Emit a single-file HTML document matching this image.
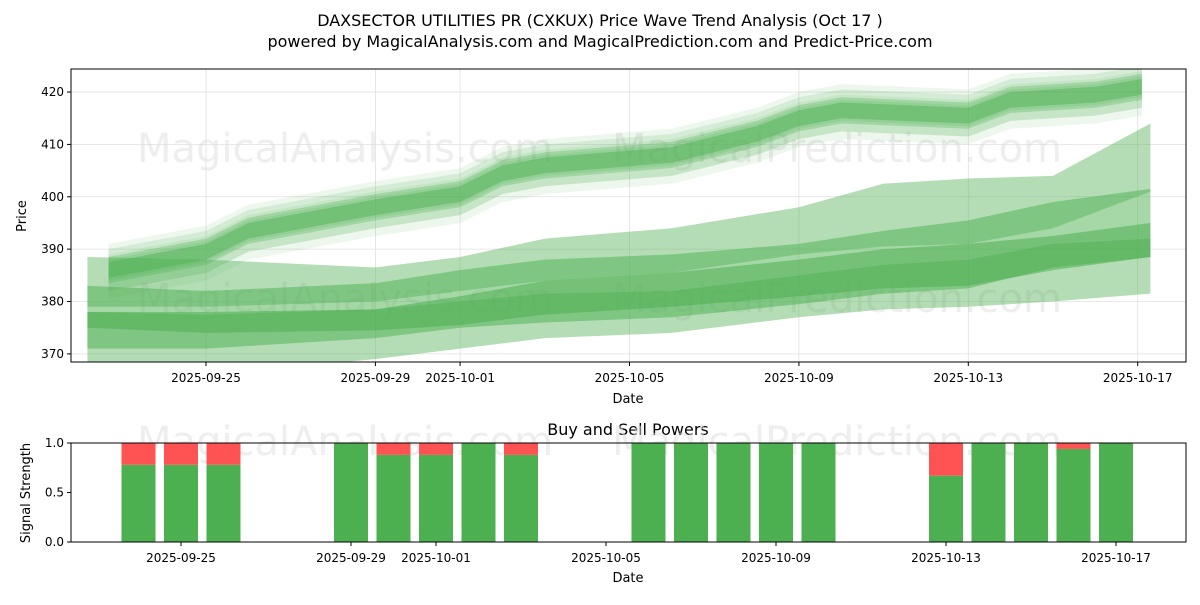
<!DOCTYPE html>
<html><head><meta charset="utf-8"><style>
body{margin:0;background:#fff;font-family:"Liberation Sans","DejaVu Sans",sans-serif;}
svg text{font-family:"DejaVu Sans","Liberation Sans",sans-serif;}
</style></head><body>
<svg id="c" width="1200" height="600" viewBox="0 0 1200 600" xmlns="http://www.w3.org/2000/svg">
<defs>
<clipPath id="clipTop"><rect x="71" y="69" width="1115" height="293"/></clipPath>
<clipPath id="clipBot"><rect x="71" y="443" width="1115" height="99"/></clipPath>
</defs>
<text x="600" y="26" text-anchor="middle" font-size="16" fill="#000">DAXSECTOR UTILITIES PR (CXKUX) Price Wave Trend Analysis (Oct 17 )</text>
<text x="600" y="47" text-anchor="middle" font-size="16" fill="#000">powered by MagicalAnalysis.com and MagicalPrediction.com and Predict-Price.com</text>
<g id="topPanel"></g>
<g id="topMarks" clip-path="url(#clipTop)"></g>
<g id="botPanel"></g>
</svg>
<script>
// ---- data ----
const xTickLabels = ["2025-09-25","2025-09-29","2025-10-01","2025-10-05","2025-10-09","2025-10-13","2025-10-17"];
const xTickDays = [0,4,6,10,14,18,22];
const yTicks = [370,380,390,400,410,420];
// upper trend cluster (days from 2025-09-25)
const upDays = [-2.3,0,1,4,6,7,8,11,13,14,15,18,19,21,22.1];
const upCenter = [386,389.5,393.5,398,400.5,404.5,406,408,412,415,416.5,415.5,418.5,419.5,421];
// lower forecast bands
const loDays = [-2.8,0,4,6,8,11,14,16,18,20,22.3];
const bandAUpper = [388.5,388,386.5,388.5,392,394,398,402.5,403.5,404,414];
const bandALower = [379,379,380,382,384,385.5,389,390.5,391,394,401];
const bandBUpper = [383,382,383.5,386,388,389,391,393.5,395.5,399,401.5];
const bandBLower = [371,371,373,375,376,377,379.5,381.5,382.5,386.5,388.5];
const bandCUpper = [378,377.5,378.5,380,381.5,382,385,387,388,391,392];
const bandCLower = [362,366,369,371,373,374,377,378.5,379,380,381.5];
const coreUpper = [378,378,378.5,381,384,385.5,388,390,391,392.5,395];
const coreLower = [375,374,374.5,375.5,377.5,379,381,382.5,383,386,388.5];
// buy/sell
const barDays = [-1,0,1,4,5,6,7,8,11,12,13,14,15,18,19,20,21,22];
const buyPower = [0.78,0.78,0.78,1,0.88,0.88,1,0.88,1,1,1,1,1,0.67,1,1,0.94,1];
const sigTicks = [0,0.5,1.0];
const sigTickLabels = ["0.0","0.5","1.0"];

const NS="http://www.w3.org/2000/svg";
function mk(tag,attrs,parent){const e=document.createElementNS(NS,tag);for(const k in attrs)e.setAttribute(k,attrs[k]);parent.appendChild(e);return e;}
const topG=document.getElementById('topPanel'), topM=document.getElementById('topMarks'), botG=document.getElementById('botPanel');
const TL=71,TR=1186,TT=69,TB=362;
const xT=d=>206+d*42.35;
const yT=v=>TB-(v-368.45)*(TB-TT)/(424.4-368.45);
const BT=443,BB=542;
const xB=d=>181+d*42.5;
const yB=v=>BB-v*(BB-BT);

xTickDays.forEach((d,i)=>{
  const g=mk('line',{x1:xT(d),x2:xT(d),y1:TT,y2:TB,stroke:'#e0e0e0','stroke-width':0.8},topG);
  
  
  mk('line',{x1:xT(d),x2:xT(d),y1:TB,y2:TB+4,stroke:'#000'},topG);
  const t=mk('text',{x:xT(d),y:TB+20,'text-anchor':'middle','font-size':12},topG);t.textContent=xTickLabels[i];
  
  
});
yTicks.forEach(v=>{
  const g=mk('line',{x1:TL,x2:TR,y1:yT(v),y2:yT(v),stroke:'#e0e0e0','stroke-width':0.8},topG);
  
  
  mk('line',{x1:TL-4,x2:TL,y1:yT(v),y2:yT(v),stroke:'#000'},topG);
  const t=mk('text',{x:TL-7,y:yT(v)+4,'text-anchor':'end','font-size':12},topG);t.textContent=v;
  
  
});
[[345,162],[837,162],[345,312],[837,312]].forEach((p,i)=>{
  const t=mk('text',{x:p[0],y:p[1],'text-anchor':'middle','font-size':40,fill:'#ddd','fill-opacity':0.5},topG);
  t.textContent=i%2?'MagicalPrediction.com':'MagicalAnalysis.com';
  
  
});
function band(days,up,lo,op,name){
  let d='M'+days.map((x,i)=>xT(x)+','+yT(up[i])).join('L');
  d+='L'+days.map((x,i)=>xT(x)+','+yT(lo[i])).reverse().join('L')+'Z';
  const p=mk('path',{d:d,fill:'#4caf50','fill-opacity':op},topM);
  
  
}
band(loDays,bandAUpper,bandALower,0.42,'forecast-band-upper');
band(loDays,bandCUpper,bandCLower,0.42,'forecast-band-lower');
band(loDays,bandBUpper,bandBLower,0.5,'forecast-band-middle');
band(loDays,coreUpper,coreLower,0.55,'forecast-band-core');
const spreads=[[5,-4,0.1],[3,-5.5,0.1],[4,-2,0.15],[2,-4,0.15],[2.5,-2.5,0.3],[1.5,-1.5,0.45]];
spreads.forEach(s=>{
  band(upDays,upCenter.map(v=>v+s[0]),upCenter.map(v=>v+s[1]),s[2],'trend-wave-band');
});
const f1=mk('rect',{x:TL,y:TT,width:TR-TL,height:TB-TT,fill:'none',stroke:'#000','stroke-width':1},document.getElementById('c'));


let t=mk('text',{x:628,y:403,'text-anchor':'middle','font-size':13},topG);t.textContent='Date';


t=mk('text',{x:26,y:216,'text-anchor':'middle','font-size':13,transform:'rotate(-90 26 216)'},topG);t.textContent='Price';



t=mk('text',{x:628,y:435,'text-anchor':'middle','font-size':16},botG);t.textContent='Buy and Sell Powers';


[[345,455],[837,455]].forEach((p,i)=>{
  const w=mk('text',{x:p[0],y:p[1],'text-anchor':'middle','font-size':40,fill:'#ddd','fill-opacity':0.5},botG);
  w.textContent=i?'MagicalPrediction.com':'MagicalAnalysis.com';
  
  
});
barDays.forEach((d,i)=>{
  const x=xB(d)-17;
  const g=mk('rect',{x:x,y:yB(buyPower[i]),width:34,height:yB(0)-yB(buyPower[i]),fill:'#4caf50'},botG);
  
  
  const r=mk('rect',{x:x,y:yB(1),width:34,height:yB(buyPower[i])-yB(1),fill:'#ff5252'},botG);
  
  
});
xTickDays.forEach((d,i)=>{
  mk('line',{x1:xB(d),x2:xB(d),y1:BB,y2:BB+4,stroke:'#000'},botG);
  const tl=mk('text',{x:xB(d),y:BB+20,'text-anchor':'middle','font-size':12},botG);tl.textContent=xTickLabels[i];
  
  
});
sigTicks.forEach((v,i)=>{
  mk('line',{x1:TL-4,x2:TL,y1:yB(v),y2:yB(v),stroke:'#000'},botG);
  const tl=mk('text',{x:TL-7,y:yB(v)+4,'text-anchor':'end','font-size':12},botG);tl.textContent=sigTickLabels[i];
  
  
});
const f2=mk('rect',{x:TL,y:BT,width:TR-TL,height:BB-BT,fill:'none',stroke:'#000','stroke-width':1},botG);


t=mk('text',{x:628,y:582,'text-anchor':'middle','font-size':13},botG);t.textContent='Date';


t=mk('text',{x:30,y:493,'text-anchor':'middle','font-size':13,transform:'rotate(-90 30 493)'},botG);t.textContent='Signal Strength';


</script>
</body></html>
